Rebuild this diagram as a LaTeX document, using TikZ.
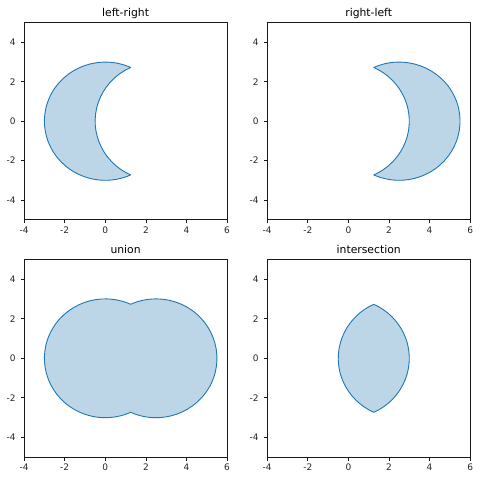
\documentclass[tikz,border=0pt]{standalone}
\usepackage{fontspec}
\setmainfont{DejaVu Sans}
\definecolor{tabblue}{HTML}{1F77B4}
\tikzset{
  frame/.style ={draw=black!90,line width=0.8pt},
  tk/.style    ={draw=black!90,line width=0.8pt},
  tlab/.style  ={inner sep=0pt,font=\fontsize{9}{9}\selectfont,text=black!85},
  ttl/.style   ={inner sep=0pt,font=\fontsize{10.8}{11}\selectfont,anchor=base},
  region/.style={draw=tabblue,fill=tabblue!30,line width=0.9pt,line join=round},
}
% frame, ticks and title of one panel (data units: x -4..6, y -5..5)
\newcommand{\panel}[2]{%
  \draw[frame] (-4,-5) rectangle (6,5);
  \foreach \v [count=\i] in {-4,-2,...,6} {
    \draw[tk] (\v,-5) -- ++(0pt,-3.5pt);
    \node[tlab,anchor=base,yshift=-13.5pt] (#1x\i) at (\v,-5) {\v};
  }
  \foreach \v [count=\i] in {-4,-2,...,4} {
    \draw[tk] (-4,\v) -- ++(-3.5pt,0pt);
    \node[tlab,anchor=east,xshift=-8.3pt] (#1y\i) at (-4,\v) {\v};
  }
  \node[ttl,yshift=6pt] (#1t) at (1,5) {#2};
}
\begin{document}
\begin{tikzpicture}
\useasboundingbox (0,0) rectangle (480pt,480pt);

% left-right
\begin{scope}[shift={(105.3pt,358.8pt)},x=20.3pt,y=19.7pt]
  \path[region] (1.25,2.7272) arc[start angle=65.376,end angle=294.624,radius=3]
    arc[start angle=245.376,end angle=114.624,radius=3] -- cycle;
  \panel{a}{left-right}
\end{scope}

% right-left
\begin{scope}[shift={(348.4pt,358.8pt)},x=20.3pt,y=19.7pt]
  \path[region] (1.25,2.7272) arc[start angle=114.624,end angle=-114.624,radius=3]
    arc[start angle=-65.376,end angle=65.376,radius=3] -- cycle;
  \panel{b}{right-left}
\end{scope}

% union
\begin{scope}[shift={(105.3pt,121.7pt)},x=20.3pt,y=19.8pt]
  \path[region] (1.25,2.7272) arc[start angle=65.376,end angle=294.624,radius=3]
    arc[start angle=-114.624,end angle=114.624,radius=3] -- cycle;
  \panel{c}{union}
\end{scope}

% intersection
\begin{scope}[shift={(348.4pt,121.7pt)},x=20.3pt,y=19.8pt]
  \path[region] (1.25,-2.7272) arc[start angle=-65.376,end angle=65.376,radius=3]
    arc[start angle=114.624,end angle=245.376,radius=3] -- cycle;
  \panel{d}{intersection}
\end{scope}
\end{tikzpicture}
\end{document}
